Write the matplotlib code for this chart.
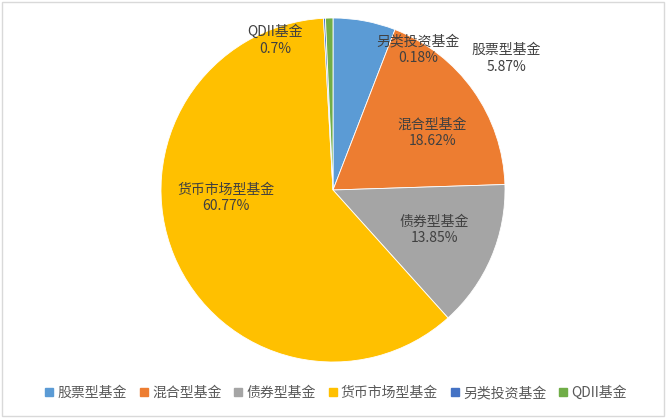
import matplotlib
matplotlib.use("Agg")
import matplotlib.pyplot as plt
from matplotlib.lines import Line2D
from matplotlib.patches import Rectangle

plt.rcParams['font.family'] = ['Noto Sans CJK SC', 'DejaVu Sans']

categories = ['股票型基金', '混合型基金', '债券型基金', '货币市场型基金', '另类投资基金', 'QDII基金']
values = [5.87, 18.62, 13.85, 60.77, 0.18, 0.7]
pct_labels = ['5.87%', '18.62%', '13.85%', '60.77%', '0.18%', '0.7%']
colors = ['#5B9BD5', '#ED7D31', '#A5A5A5', '#FFC000', '#4472C4', '#70AD47']
# label anchor positions (in pie radius units, relative to centre)
label_pos = [(1.006, 0.765), (0.576, 0.331), (0.590, -0.233),
             (-0.622, -0.047), (0.494, 0.814), (-0.337, 0.872)]

W, H = 667, 420
fig = plt.figure(figsize=(W / 100, H / 100), dpi=100)
fig.patch.set_facecolor('white')

cx, cy, R = 333, 190, 172
ax = fig.add_axes([(cx - R) / W, (H - cy - R) / H, 2 * R / W, 2 * R / H])
wedges, _ = ax.pie(values, colors=colors, startangle=90, counterclock=False,
                   radius=1.0, wedgeprops=dict(edgecolor='white', linewidth=0.6))
ax.set_xlim(-1, 1)
ax.set_ylim(-1, 1)
ax.set_aspect('equal')
ax.axis('off')

for name, pct, (x, y) in zip(categories, pct_labels, label_pos):
    ax.text(x, y, name + '\n' + pct, ha='center', va='center', fontsize=10,
            color='#404040', linespacing=1.25)

handles = [Line2D([0], [0], marker='s', linestyle='none', markersize=5.5,
                  markerfacecolor=c, markeredgecolor=c) for c in colors]
leg = fig.legend(handles, categories, loc='center', ncol=6,
                 bbox_to_anchor=(336 / W, 1 - 393 / H), frameon=False,
                 fontsize=10, handlelength=0.6, handletextpad=0.3,
                 columnspacing=0.9, borderaxespad=0)
for t in leg.get_texts():
    t.set_color('#595959')

fig.patches.append(Rectangle((2 / W, 4 / H), 662 / W, 414 / H, transform=fig.transFigure,
                             fill=False, edgecolor='#d9d9d9', linewidth=1))

fig.savefig('out.png', dpi=100, facecolor='white')
